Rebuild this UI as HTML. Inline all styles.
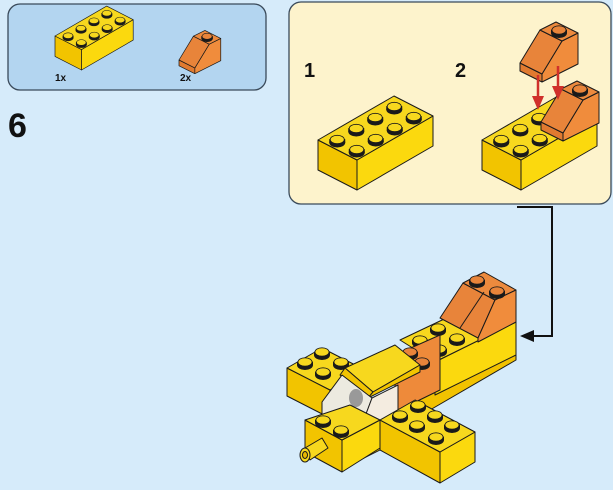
<!DOCTYPE html>
<html><head><meta charset="utf-8"><style>
html,body{margin:0;padding:0;background:#d6ebfa;}
svg{display:block;font-family:"Liberation Sans",Arial,sans-serif;}
</style></head><body>
<svg width="613" height="490" viewBox="0 0 613 490" xmlns="http://www.w3.org/2000/svg">
<defs>
<g id="st"><ellipse cx="0" cy="3" rx="7.5" ry="4.5" fill="#1a1a1a"/><rect x="-7.5" y="0" width="15" height="3" fill="#1a1a1a"/><ellipse cx="0" cy="0" rx="7" ry="4.2" fill="#f7d81e" stroke="#1a1a1a" stroke-width="0.8"/></g>
<g id="sto"><ellipse cx="0" cy="3" rx="7.5" ry="4.5" fill="#1a1a1a"/><rect x="-7.5" y="0" width="15" height="3" fill="#1a1a1a"/><ellipse cx="0" cy="0" rx="7" ry="4.2" fill="#e8843a" stroke="#1a1a1a" stroke-width="0.8"/></g>
<g id="b24" stroke="#1a1a1a" stroke-width="1" stroke-linejoin="round">
<polygon points="0,0 39,20 39,50 0,30" fill="#f2c400"/>
<polygon points="39,20 115,-24 115,6 39,50" fill="#fbd90e"/>
<polygon points="0,0 39,20 115,-24 76,-44" fill="#f7d81e"/>
<use href="#st" x="76.25" y="-33.5"/><use href="#st" x="57.25" y="-22.5"/><use href="#st" x="95.75" y="-23.5"/>
<use href="#st" x="38.25" y="-11.5"/><use href="#st" x="76.75" y="-12.5"/><use href="#st" x="57.75" y="-1.5"/>
<use href="#st" x="19.25" y="-0.5"/><use href="#st" x="38.75" y="9.5"/>
</g>
<g id="sl" stroke="#1a1a1a" stroke-width="1" stroke-linejoin="round">
<polygon points="0,0 22,11 22,19 0,8" fill="#e07a30"/>
<polygon points="22,11 42,-22 58,-30 58,1 22,19" fill="#f08c3c"/>
<polygon points="0,0 22,11 42,-22 20,-33" fill="#e8843a"/>
<polygon points="20,-33 42,-22 58,-30 36,-41" fill="#ec8a3e"/>
<use href="#sto" x="39" y="-33"/>
</g>
</defs>
<rect width="613" height="490" fill="#d6ebfa"/>
<rect x="8" y="4" width="258" height="86" rx="12" fill="#b3d5f0" stroke="#3a4a5a" stroke-width="1.3"/>
<use href="#b24" transform="translate(55,36) scale(0.68)"/>
<use href="#sl" transform="translate(179,60) scale(0.72)"/>
<text x="55" y="81" font-size="10" font-weight="bold" fill="#111">1x</text>
<text x="180" y="81" font-size="10" font-weight="bold" fill="#111">2x</text>
<text x="8" y="137" font-size="34" font-weight="bold" fill="#111">6</text>
<rect x="289" y="2" width="322" height="202" rx="12" fill="#fdf3cc" stroke="#3a4a5a" stroke-width="1.3"/>
<text x="304" y="77" font-size="20" font-weight="bold" fill="#111">1</text>
<text x="455" y="77" font-size="20" font-weight="bold" fill="#111">2</text>
<use href="#b24" transform="translate(318,140)"/>
<use href="#b24" transform="translate(482,140)"/>
<use href="#sl" transform="translate(541,122)"/>
<use href="#sl" transform="translate(520,63)"/>
<g stroke="#d0302a" stroke-width="2.5" fill="#d0302a">
<line x1="538" y1="75" x2="538" y2="100"/><polygon points="532,96 544,96 538,110" stroke="none"/>
<line x1="558" y1="66" x2="558" y2="90"/><polygon points="552,86 564,86 558,100" stroke="none"/>
</g>
<polyline points="517,207 552,207 552,336 532,336" fill="none" stroke="#111" stroke-width="2"/>
<polygon points="520,336 534,330 534,342" fill="#111"/>
<g stroke="#1a1a1a" stroke-width="1" stroke-linejoin="round">
<polygon points="340,425 440,370 516,330 516,360 430,410 400,440 350,465" fill="#f2c200"/>
<polygon points="400,340 435,362 516,322 480,302" fill="#f7d81e"/>
<polygon points="435,362 516,322 516,355 435,395" fill="#fbd90e"/>
<polygon points="440,318 463,283 495,300 478,338" fill="#e8843a"/>
<polygon points="463,283 484,272 516,290 495,300" fill="#ec8a3e"/>
<polygon points="495,300 516,290 516,322 478,342 478,338" fill="#f08c3c"/>
<line x1="460" y1="328" x2="484" y2="292"/>
<use href="#sto" x="477" y="280"/><use href="#sto" x="497" y="291"/>
<use href="#st" x="438" y="328"/><use href="#st" x="420" y="340"/><use href="#st" x="457" y="338"/><use href="#st" x="439" y="349"/>
<polygon points="287,368 330,390 330,418 287,396" fill="#f2c400"/>
<polygon points="287,368 330,390 365,370 322,348" fill="#f7d81e"/>
<use href="#st" x="322" y="352"/><use href="#st" x="305" y="362"/><use href="#st" x="341" y="362"/><use href="#st" x="323" y="372"/>
<polygon points="395,355 440,335 440,390 395,412" fill="#ee8a3a"/>
<use href="#sto" x="410" y="352"/><use href="#sto" x="422" y="362"/>
<polygon points="345,368 395,345 420,365 373,392" fill="#f7d81e"/>
<polygon points="345,368 373,392 368,398 340,375" fill="#f2c400"/>
<polygon points="373,392 420,365 420,372 368,398" fill="#f2c400"/>
<polygon points="322,402 342,375 372,398 360,430 322,414" fill="#eceae0"/>
<polygon points="372,398 398,385 398,415 360,430" fill="#f4ece0"/>
<ellipse cx="356" cy="398" rx="7" ry="9" fill="#999" stroke="none"/>
<polygon points="305,420 342,440 342,472 305,452" fill="#f2c400"/>
<polygon points="342,440 380,420 380,448 342,472" fill="#fbd90e"/>
<polygon points="305,420 342,440 380,420 350,405" fill="#f7d81e"/>
<use href="#st" x="323" y="420"/><use href="#st" x="341" y="430"/>
<polygon points="380,420 440,452 440,483 380,450" fill="#f2c400"/>
<polygon points="440,452 475,432 475,462 440,483" fill="#fbd90e"/>
<polygon points="380,420 440,452 475,432 415,400" fill="#f7d81e"/>
<use href="#st" x="418" y="405"/><use href="#st" x="435" y="415"/><use href="#st" x="452" y="425"/>
<use href="#st" x="400" y="415"/><use href="#st" x="417" y="425"/><use href="#st" x="436" y="437"/>
<polygon points="305,448 322,438 328,448 310,460" fill="#f7d81e"/>
<ellipse cx="305" cy="455" rx="5" ry="7" fill="#f7d81e"/>
<ellipse cx="305" cy="455" rx="2.5" ry="3.5" fill="#e8b800"/>
</g>
</svg>
</body></html>
